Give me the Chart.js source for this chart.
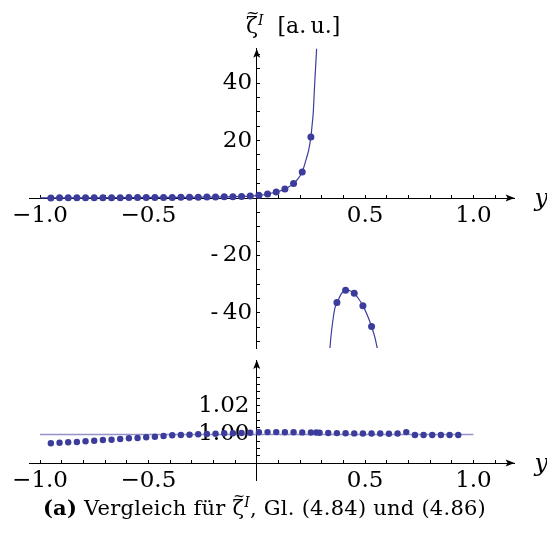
<!DOCTYPE html>
<html>
<head>
<meta charset="utf-8">
<script src="https://cdn.jsdelivr.net/npm/chart.js@4"></script>
<style>
  body { margin: 0; background: #fff; width: 547px; height: 539px; position: relative; overflow: hidden; font-family: 'DejaVu Serif', serif; }
  canvas { position: absolute; left: 0; }
  #chartTop { top: 0; }
  #chartBottom { top: 300px; }
  .texto { position: absolute; line-height: 1; white-space: nowrap; color: #000; }
  .sup { position: relative; top: -8px; font-style: italic; font-size: 14px; }
  .til { display: inline-block; width: 0; position: relative; }
</style>
</head>
<body>
<canvas id="chartTop" width="547" height="380"></canvas>
<canvas id="chartBottom" width="547" height="220"></canvas>
<div class="texto" id="titulo" style="left:246px; top:15px; font-size:22px;">ζ<span class="til" style="left:-12px; top:-15px; font-size:16px;">~</span><span class="sup">I</span>&nbsp;&nbsp;[a.&thinsp;u.]</div>
<div class="texto" id="legenda" style="left:0; width:529px; text-align:center; top:497px; font-size:21px; letter-spacing:0.25px;"><b>(a)</b> Vergleich für ζ<span class="til" style="left:-11px; top:-14px; font-size:14px;">~</span><span class="sup">I</span>, Gl. (4.84) und (4.86)</div>
<script>
  // pontos numericos, painel de cima
  const topDotX = [-0.95, -0.91, -0.87, -0.83, -0.79, -0.75, -0.71, -0.67, -0.63, -0.59, -0.55, -0.51,
    -0.47, -0.43, -0.39, -0.35, -0.31, -0.27, -0.23, -0.19, -0.15, -0.11, -0.07, -0.03,
    0.01, 0.05, 0.09, 0.13, 0.17, 0.21, 0.25, 0.37, 0.41, 0.45, 0.49, 0.53];
  const topDotY = [0.05, 0.06, 0.07, 0.08, 0.09, 0.1, 0.11, 0.12, 0.13, 0.14, 0.15, 0.17,
    0.18, 0.2, 0.22, 0.24, 0.26, 0.29, 0.32, 0.36, 0.41, 0.47, 0.55, 0.7,
    0.95, 1.4, 2.1, 3.1, 5.1, 9.1, 21.3, -36.4, -32.1, -33.2, -37.5, -44.8];

  // curva analitica (dois ramos)
  const curve1X = [-1.0, -0.8, -0.6, -0.4, -0.25, -0.15, -0.07, 0.0, 0.05, 0.09, 0.13, 0.17, 0.19,
    0.21, 0.23, 0.24, 0.25, 0.255, 0.261, 0.2675, 0.272, 0.277];
  const curve1Y = [0.04, 0.08, 0.13, 0.22, 0.3, 0.41, 0.55, 0.85, 1.4, 2.1, 3.1, 5.1, 6.7,
    9.1, 14, 16.8, 21.3, 25, 30, 40, 46, 53];
  const curve2X = [0.337, 0.341, 0.346, 0.354, 0.361, 0.372, 0.39, 0.415, 0.43, 0.45, 0.47, 0.49,
    0.51, 0.53, 0.545, 0.558];
  const curve2Y = [-53, -49.5, -45.9, -41.3, -38.3, -36.4, -33.4, -31.9, -32.3, -33.2, -35.1, -37.5,
    -40.8, -44.8, -48.5, -53];

  // painel de baixo
  const botDotX = [-0.95, -0.91, -0.87, -0.83, -0.79, -0.75, -0.71, -0.67, -0.63, -0.59, -0.55, -0.51,
    -0.47, -0.43, -0.39, -0.35, -0.31, -0.27, -0.23, -0.19, -0.15, -0.11, -0.07, -0.03,
    0.01, 0.05, 0.09, 0.13, 0.17, 0.21, 0.25, 0.275, 0.29, 0.33, 0.37, 0.41, 0.45, 0.49,
    0.53, 0.57, 0.61, 0.65, 0.69, 0.73, 0.77, 0.81, 0.85, 0.89, 0.93];
  const botDotY = [0.9938, 0.9942, 0.9945, 0.9947, 0.9952, 0.9956, 0.9961, 0.9963, 0.9968, 0.9973, 0.9975, 0.998,
    0.9984, 0.9989, 0.9994, 0.9996, 0.9998, 1.0001, 1.0003, 1.0005, 1.0008, 1.0008, 1.001, 1.0012,
    1.0015, 1.0016, 1.0016, 1.0015, 1.0015, 1.0014, 1.0013, 1.0013, 1.0012, 1.001, 1.0009, 1.0008, 1.0007, 1.0006,
    1.0006, 1.0006, 1.0005, 1.0006, 1.0016, 0.9996, 0.9996, 0.9996, 0.9996, 0.9996, 0.9996];
  const refLineX = [-1.0, 1.0];
  const refLineY = [1.0, 1.0];

  // ticks
  const xTickValues = [-1.0, -0.9, -0.8, -0.7, -0.6, -0.5, -0.4, -0.3, -0.2, -0.1, 0.0,
    0.1, 0.2, 0.3, 0.4, 0.5, 0.6, 0.7, 0.8, 0.9, 1.0, 1.1];
  const xLabelValues = [-1.0, -0.5, 0.5, 1.0];
  const xLabelTexts = ['\u22121.0', '\u22120.5', '0.5', '1.0'];
  const topTickValues = [-50, -45, -40, -35, -30, -25, -20, -15, -10, -5, 0, 5, 10, 15, 20, 25, 30, 35, 40, 45, 50];
  const topLabelValues = [40, 20, -20, -40];
  const topLabelTexts = ['40\u2009', '20\u2009', '-\u200920\u2009', '-\u200940\u2009'];
  const botTickValues = [0.985, 0.99, 0.995, 1.0, 1.005, 1.01, 1.015, 1.02, 1.025, 1.03, 1.035, 1.04];
  const botLabelValues = [1.0, 1.02];
  const botLabelTexts = ['1.00 ', '1.02 '];

  const azul = '#3c3c9c';
  const fonte = { family: 'DejaVu Serif', size: 23 };

  function pts(xs, ys) {
    return xs.map((v, i) => ({ x: v, y: ys[i] }));
  }
  function rotulo(values, texts) {
    return function (value) {
      const i = values.findIndex(v => Math.abs(v - value) < 1e-9);
      return i >= 0 ? texts[i] : '';
    };
  }

  // setas nos eixos e o "y"
  const setas = {
    id: 'setas',
    afterDraw(chart) {
      const { ctx, chartArea, scales } = chart;
      const y0 = scales.y.getPixelForValue(chart.options.scales.x.position.y);
      const x0 = scales.x.getPixelForValue(0);
      ctx.save();
      ctx.fillStyle = '#000';
      ctx.beginPath();
      ctx.moveTo(chartArea.right, y0);
      ctx.lineTo(chartArea.right - 9, y0 - 3.5);
      ctx.lineTo(chartArea.right - 7, y0);
      ctx.lineTo(chartArea.right - 9, y0 + 3.5);
      ctx.closePath();
      ctx.fill();
      ctx.beginPath();
      ctx.moveTo(x0, chartArea.top);
      ctx.lineTo(x0 - 3.5, chartArea.top + 9);
      ctx.lineTo(x0, chartArea.top + 7);
      ctx.lineTo(x0 + 3.5, chartArea.top + 9);
      ctx.closePath();
      ctx.fill();
      ctx.font = 'italic 24px "DejaVu Serif"';
      ctx.textBaseline = 'alphabetic';
      ctx.fillText('y', chartArea.right + 20, y0 + 8);
      ctx.restore();
    }
  };

  function eixoX(crossY) {
    return {
      type: 'linear',
      min: -1.05,
      max: 1.19,
      position: { y: crossY },
      afterBuildTicks: (scale) => { scale.ticks = xTickValues.map(v => ({ value: v })); },
      grid: { display: true, drawOnChartArea: false, drawTicks: true, tickLength: -4, tickColor: '#000', tickWidth: 1 },
      border: { display: true, color: '#000', width: 1 },
      ticks: {
        autoSkip: false, maxRotation: 0, minRotation: 0, padding: 8.5,
        color: '#000', font: fonte,
        callback: rotulo(xLabelValues, xLabelTexts)
      }
    };
  }

  function eixoY(min, max, tickValues, labelValues, labelTexts) {
    return {
      type: 'linear',
      min: min,
      max: max,
      position: { x: 0 },
      afterBuildTicks: (scale) => { scale.ticks = tickValues.map(v => ({ value: v })); },
      grid: { display: true, drawOnChartArea: false, drawTicks: true, tickLength: -4, tickColor: '#000', tickWidth: 1 },
      border: { display: true, color: '#000', width: 1 },
      ticks: {
        autoSkip: false, color: '#000', font: fonte,
        callback: rotulo(labelValues, labelTexts)
      }
    };
  }

  const ctxTop = document.getElementById('chartTop');
  new Chart(ctxTop, {
    type: 'scatter',
    data: {
      datasets: [
        {
          data: pts(topDotX, topDotY),
          pointRadius: 3.5,
          pointBorderWidth: 0,
          pointBackgroundColor: azul,
          showLine: false
        },
        {
          data: pts(curve1X, curve1Y),
          showLine: true,
          pointRadius: 0,
          borderColor: azul,
          borderWidth: 1.2,
          cubicInterpolationMode: 'monotone'
        },
        {
          data: pts(curve2X, curve2Y),
          showLine: true,
          pointRadius: 0,
          borderColor: azul,
          borderWidth: 1.2,
          cubicInterpolationMode: 'monotone'
        }
      ]
    },
    options: {
      responsive: false,
      animation: false,
      devicePixelRatio: 1,
      layout: { padding: { left: 29.2, right: 32.4, top: 48.8, bottom: 31.9 } },
      plugins: { legend: { display: false }, tooltip: { enabled: false } },
      scales: {
        x: eixoX(0),
        y: eixoY(-52.3, 52.0, topTickValues, topLabelValues, topLabelTexts)
      }
    },
    plugins: [setas]
  });

  const ctxBottom = document.getElementById('chartBottom');
  new Chart(ctxBottom, {
    type: 'scatter',
    data: {
      datasets: [
        {
          data: pts(botDotX, botDotY),
          pointRadius: 3.2,
          pointBorderWidth: 0,
          pointBackgroundColor: azul,
          showLine: false
        },
        {
          data: pts(refLineX, refLineY),
          showLine: true,
          pointRadius: 0,
          borderColor: 'rgba(60,60,156,0.55)',
          borderWidth: 1.5
        }
      ]
    },
    options: {
      responsive: false,
      animation: false,
      devicePixelRatio: 1,
      layout: { padding: { left: 29.2, right: 32.4, top: 60, bottom: 40 } },
      plugins: { legend: { display: false }, tooltip: { enabled: false } },
      scales: {
        x: eixoX(0.98),
        y: eixoY(0.9682, 1.0519, botTickValues, botLabelValues, botLabelTexts)
      }
    },
    plugins: [setas]
  });
</script>
</body>
</html>
